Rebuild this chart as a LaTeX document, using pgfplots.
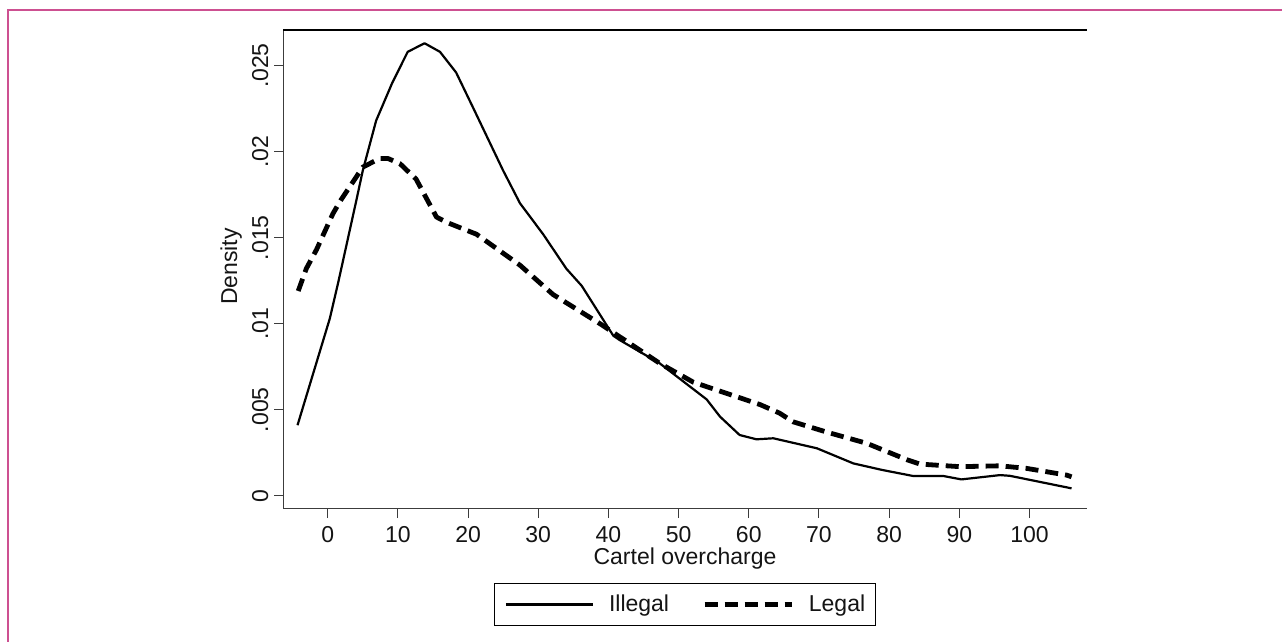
\documentclass[border=0pt]{standalone}
\usepackage{pgfplots}
\pgfplotsset{compat=1.18}
\usepackage{fontspec}
\setmainfont{Liberation Sans}
\definecolor{framepink}{RGB}{205,80,145}
\definecolor{axcol}{RGB}{60,60,60}
\newcommand\lbl{\fontsize{23}{27.6}\selectfont}
\begin{document}
\begin{tikzpicture}[x=1pt,y=1pt]
\useasboundingbox (0,0) rectangle (1282,642);
\draw[framepink, line width=2.2pt] (8,0) -- (8,632) -- (1282,632);
\begin{axis}[
  at={(283pt,133pt)}, anchor=south west,
  scale only axis, width=804pt, height=479pt,
  xmin=-6.37, xmax=108.2, ymin=-0.00077, ymax=0.02707,
  axis line style={draw=none},
  tick align=outside, major tick length=9pt,
  xtick pos=bottom, ytick pos=left,
  tick style={axcol, line width=1.1pt},
  xtick={0,10,...,100},
  xticklabels={0,10,20,30,40,50,60,70,80,90,100},
  ytick={0,0.005,0.01,0.015,0.02,0.025},
  yticklabels={0,.005,.01,.015,.02,.025},
  scaled y ticks=false,
  ticklabel style={font=\lbl, text=black!92},
  xticklabel style={anchor=north, inner sep=0pt},
  xticklabel shift=8pt,
  yticklabel style={rotate=90, anchor=base, inner sep=0pt},
  yticklabel shift=6pt,
  xlabel={Cartel overcharge},
  ylabel={Density},
  label style={font=\lbl, text=black!92, inner sep=0pt},
  xlabel style={at={(axis description cs:0.5,-0.1157)}, anchor=base},
  ylabel style={at={(axis description cs:-0.057,0.5063)}, anchor=base, rotate=0},
  legend columns=2,
  legend image code/.code={\draw[#1] (0pt,0pt) -- (87pt,0pt);},
  legend style={at={(axis description cs:0.5,-0.1539)}, anchor=north,
    draw=black, line width=1.2pt, inner xsep=10pt, inner ysep=12pt,
    font=\lbl, text=black!92,
    nodes={inner sep=0pt},
    /tikz/every odd column/.append style={column sep=15pt},
    /tikz/every even column/.append style={column sep=33pt}},
]
\addplot[black, line width=2.2pt, line join=round] coordinates {
(-4.3,0.0041) (0.3,0.0103) (1.5,0.0124) (4.1,0.0172) (5.0,0.0189) (6.9,0.0218)
(9.2,0.0240) (11.4,0.0258) (13.8,0.0263) (16.0,0.0258) (18.3,0.0246) (20.9,0.0224)
(25.0,0.0189) (27.4,0.0170) (30.7,0.0152) (34.0,0.0132) (36.2,0.0122) (40.7,0.0093)
(41.6,0.00905) (47.3,0.0077) (54.0,0.0056) (55.9,0.0046) (58.7,0.00353) (61.1,0.00328)
(63.5,0.00334) (69.7,0.00276) (74.9,0.00188) (79.0,0.0015) (83.4,0.00115) (87.7,0.00115)
(90.3,0.00095) (95.8,0.0012) (97.2,0.00116) (106.0,0.00043)
};
\addlegendentry{Illegal}
\addplot[black, line width=4.8pt, dash pattern=on 13pt off 7pt, line join=round] coordinates {
(-4.2,0.0119) (-3.05,0.0132) (-1.6,0.0143) (0.75,0.0164) (1.9,0.0172) (5.0,0.0191)
(7.4,0.0196) (8.6,0.0196) (10.3,0.0193) (12.6,0.0184) (15.5,0.0162) (16.9,0.0159)
(21.2,0.0152) (27.4,0.0134) (32.1,0.0117) (38.8,0.0100) (47.3,0.0077) (52.1,0.0066)
(61.6,0.0053) (64.4,0.0048) (66.3,0.0043) (71.1,0.0037) (76.8,0.00305) (82.5,0.0021)
(84.4,0.00184) (90.1,0.00169) (95.8,0.00174) (99.6,0.00159) (105.3,0.0012) (106.0,0.0011)
};
\addlegendentry{Legal}
\draw[axcol, line width=1.3pt] (rel axis cs:0,1) -- (rel axis cs:0,0) -- (rel axis cs:1,0);
\draw[black, line width=1.3pt] (rel axis cs:0,1) -- (rel axis cs:1,1);
\end{axis}
\end{tikzpicture}
\end{document}
